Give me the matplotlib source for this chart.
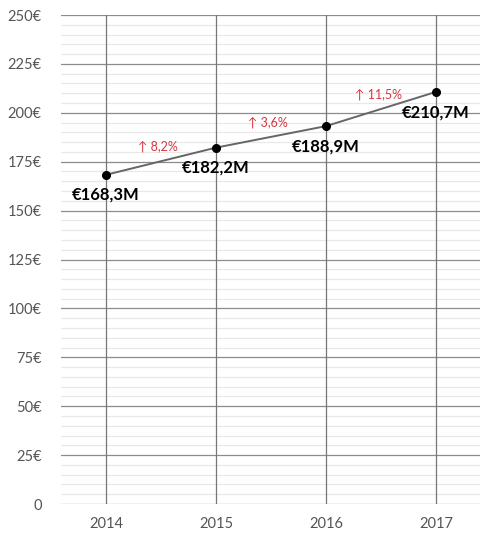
import matplotlib.pyplot as plt
from matplotlib.ticker import MultipleLocator, FuncFormatter

years = ["2014", "2015", "2016", "2017"]
revenue = [168.3, 182.2, 193.2, 210.7]
value_labels = ["€168,3M", "€182,2M", "€188,9M", "€210,7M"]
growth_labels = ["↑ 8,2%", "↑ 3,6%", "↑ 11,5%"]

plt.rcParams['font.family'] = ['Lato', 'DejaVu Sans']

fig = plt.figure(figsize=(4.8, 5.36), dpi=100)
ax = fig.add_axes([0.127, 0.0597, 0.873, 0.9123])

x = list(range(len(years)))

# vertical year lines drawn above the horizontal grid
for xi in x:
    ax.axvline(xi, color='#777777', lw=0.9, zorder=1.5)

ax.plot(x, revenue, color='#666666', lw=1.4, marker='o', markersize=5.5,
        markerfacecolor='black', markeredgecolor='black', zorder=4)

for xi, yi, lab in zip(x, revenue, value_labels):
    ax.annotate(lab, (xi, yi), xytext=(0, -14.5), textcoords='offset points',
                ha='center', va='center', fontsize=12, fontweight='bold',
                color='black', zorder=5)

for i, lab in enumerate(growth_labels):
    mx = (x[i] + x[i + 1]) / 2
    my = (revenue[i] + revenue[i + 1]) / 2
    ax.annotate(lab, (mx, my), xytext=(-2, 10.5), textcoords='offset points',
                ha='center', va='center', fontsize=9, color='#d9363e', zorder=5)

ax.set_xlim(-0.41, 3.4)
ax.set_ylim(0, 250)
ax.set_xticks(x)
ax.set_xticklabels(years)
ax.yaxis.set_major_locator(MultipleLocator(25))
ax.yaxis.set_minor_locator(MultipleLocator(5))
ax.yaxis.set_major_formatter(FuncFormatter(lambda v, p: "0" if v == 0 else f"{int(v)}€"))

ax.grid(which='major', axis='y', color='#8c8c8c', lw=0.9, zorder=1)
ax.grid(which='minor', axis='y', color='#e8e8e8', lw=0.9, zorder=0.5)
ax.set_axisbelow(True)

for s in ax.spines.values():
    s.set_visible(False)
ax.tick_params(which='both', length=0, colors='#555555', labelsize=10.5)
ax.tick_params(axis='y', pad=14)
ax.tick_params(axis='x', pad=9)

plt.savefig("out.png", dpi=100)
